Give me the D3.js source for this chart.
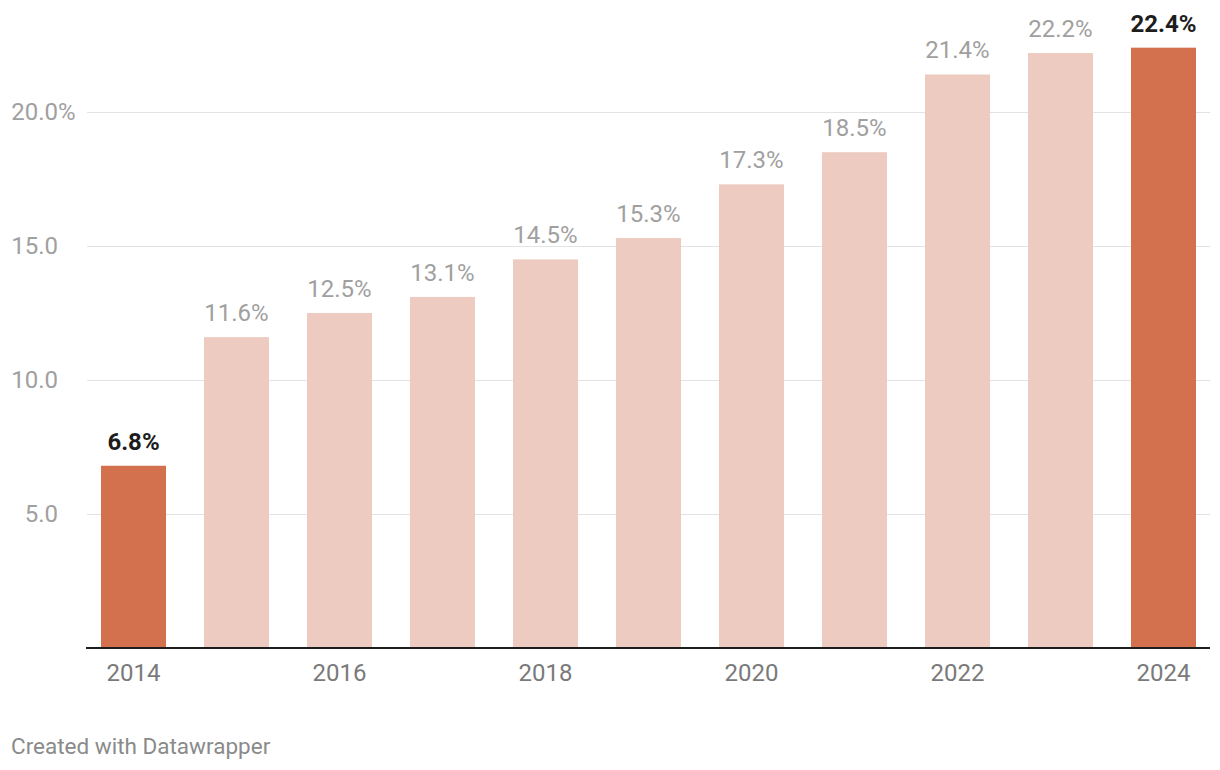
<!DOCTYPE html>
<html>
<head>
<meta charset="utf-8">
<script src="https://cdn.jsdelivr.net/npm/d3@7"></script>
<style>
  html, body { margin: 0; padding: 0; background: #fff; }
  svg { display: block; font-family: Roboto, "Noto Sans", sans-serif; }
</style>
</head>
<body>
<svg id="chart" width="1220" height="770"></svg>
<script>
const years = [2014, 2015, 2016, 2017, 2018, 2019, 2020, 2021, 2022, 2023, 2024];
const values = [6.8, 11.6, 12.5, 13.1, 14.5, 15.3, 17.3, 18.5, 21.4, 22.2, 22.4];
const highlighted = [2014, 2024];
const yTicks = [5, 10, 15, 20];
const xTickLabels = [2014, 2016, 2018, 2020, 2022, 2024];
const footerText = "Created with Datawrapper";

const svg = d3.select("#chart");

const x = d3.scaleBand()
  .domain(years)
  .range([82, 1215])
  .paddingInner(0.369)
  .paddingOuter(0.1845);

const y = d3.scaleLinear()
  .domain([0, 20])
  .range([648, 112]);

// gridlines
const grid = svg.append("g");
grid.selectAll("line")
  .data(yTicks)
  .enter().append("line")
  .attr("x1", 87).attr("x2", 1210)
  .attr("y1", d => Math.round(y(d)) + 0.5)
  .attr("y2", d => Math.round(y(d)) + 0.5)
  .attr("stroke", "#e3e3e3")
  .attr("stroke-width", 1);

// y labels
const yl = svg.append("g");
yl.selectAll("text")
  .data(yTicks)
  .enter().append("text")
  .attr("x", 58)
  .attr("y", d => y(d))
  .attr("dy", "0.35em")
  .attr("text-anchor", "end")
  .attr("fill", "#a0a0a0")
  .attr("font-size", 24)
  .text(d => d3.format(".1f")(d));
yl.append("text")
  .attr("x", 58)
  .attr("y", y(d3.max(yTicks)))
  .attr("dy", "0.35em")
  .attr("fill", "#a0a0a0")
  .attr("font-size", 24)
  .text("%");

// bars
svg.append("g").selectAll("rect")
  .data(years)
  .enter().append("rect")
  .attr("x", d => x(d))
  .attr("width", x.bandwidth())
  .attr("y", (d, i) => y(values[i]))
  .attr("height", (d, i) => y(0) - y(values[i]))
  .attr("fill", d => highlighted.includes(d) ? "#d3704d" : "#eecbc0");

// value labels
svg.append("g").selectAll("text")
  .data(years)
  .enter().append("text")
  .attr("x", d => x(d) + x.bandwidth() / 2)
  .attr("y", (d, i) => y(values[i]) - 16)
  .attr("text-anchor", "middle")
  .attr("font-size", 24)
  .attr("font-weight", d => highlighted.includes(d) ? 700 : 400)
  .attr("fill", d => highlighted.includes(d) ? "#1d1d1d" : "#a0a0a0")
  .text((d, i) => d3.format(".1f")(values[i]) + "%");

// baseline
svg.append("line")
  .attr("x1", 86).attr("x2", 1210)
  .attr("y1", 648).attr("y2", 648)
  .attr("stroke", "#1d1d1d")
  .attr("stroke-width", 2);

// x labels
svg.append("g").selectAll("text")
  .data(xTickLabels)
  .enter().append("text")
  .attr("x", d => x(d) + x.bandwidth() / 2)
  .attr("y", 673)
  .attr("dy", "0.35em")
  .attr("text-anchor", "middle")
  .attr("font-size", 24)
  .attr("fill", "#7a7a7a")
  .text(d => d);

// footer
svg.append("text")
  .attr("x", 11)
  .attr("y", 746)
  .attr("dy", "0.35em")
  .attr("font-size", 22.5)
  .attr("fill", "#8a8a8a")
  .text(footerText);
</script>
</body>
</html>
